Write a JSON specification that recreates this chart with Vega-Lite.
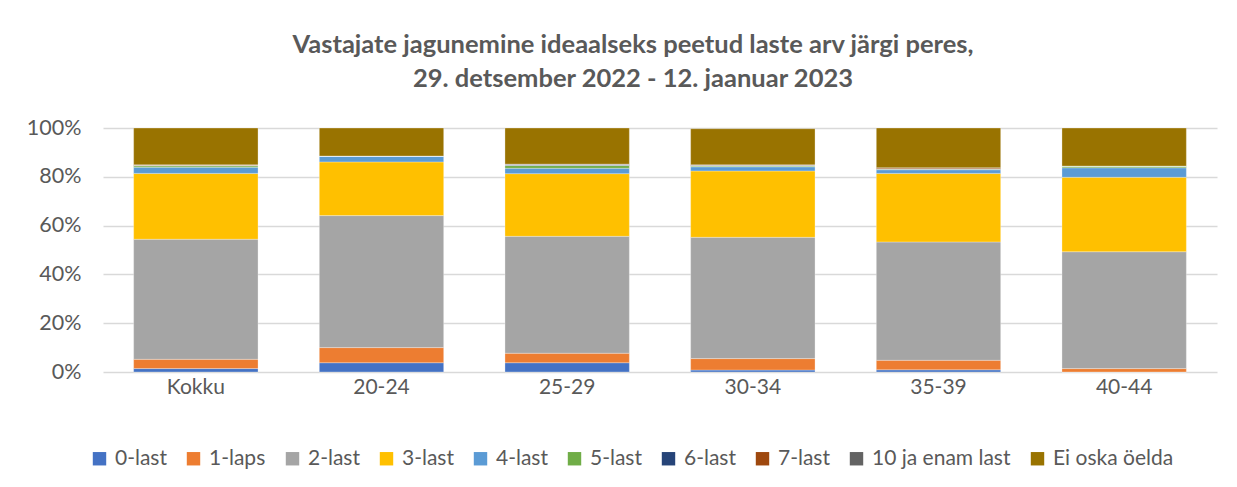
{
  "$schema": "https://vega.github.io/schema/vega-lite/v6.json",
  "autosize": {"type": "none"},
  "width": 1114,
  "height": 244,
  "padding": {"left": 103, "top": 128, "right": 20, "bottom": 115},
  "background": "#ffffff",
  "title": {
    "text": ["Vastajate jagunemine ideaalseks peetud laste arv järgi peres,", "29. detsember 2022 - 12. jaanuar 2023"],
    "fontSize": 25.5,
    "fontWeight": "bold",
    "font": "Lato",
    "color": "#595959",
    "anchor": "middle",
    "lineHeight": 34,
    "offset": 25,
    "dx": -27
  },
  "data": {
    "values": [
      {"g": "Kokku", "k": "0-last", "v": 1.4},
      {"g": "Kokku", "k": "1-laps", "v": 3.8},
      {"g": "Kokku", "k": "2-last", "v": 49.2},
      {"g": "Kokku", "k": "3-last", "v": 27.0},
      {"g": "Kokku", "k": "4-last", "v": 2.5},
      {"g": "Kokku", "k": "5-last", "v": 0.6},
      {"g": "Kokku", "k": "6-last", "v": 0.1},
      {"g": "Kokku", "k": "7-last", "v": 0.2},
      {"g": "Kokku", "k": "10 ja enam last", "v": 0.1},
      {"g": "Kokku", "k": "Ei oska öelda", "v": 15.1},
      {"g": "20-24", "k": "0-last", "v": 3.8},
      {"g": "20-24", "k": "1-laps", "v": 6.2},
      {"g": "20-24", "k": "2-last", "v": 54.1},
      {"g": "20-24", "k": "3-last", "v": 22.0},
      {"g": "20-24", "k": "4-last", "v": 2.4},
      {"g": "20-24", "k": "5-last", "v": 0.0},
      {"g": "20-24", "k": "6-last", "v": 0.0},
      {"g": "20-24", "k": "7-last", "v": 0.0},
      {"g": "20-24", "k": "10 ja enam last", "v": 0.0},
      {"g": "20-24", "k": "Ei oska öelda", "v": 11.5},
      {"g": "25-29", "k": "0-last", "v": 3.8},
      {"g": "25-29", "k": "1-laps", "v": 3.9},
      {"g": "25-29", "k": "2-last", "v": 47.9},
      {"g": "25-29", "k": "3-last", "v": 25.7},
      {"g": "25-29", "k": "4-last", "v": 2.2},
      {"g": "25-29", "k": "5-last", "v": 1.1},
      {"g": "25-29", "k": "6-last", "v": 0.2},
      {"g": "25-29", "k": "7-last", "v": 0.2},
      {"g": "25-29", "k": "10 ja enam last", "v": 0.2},
      {"g": "25-29", "k": "Ei oska öelda", "v": 14.8},
      {"g": "30-34", "k": "0-last", "v": 0.8},
      {"g": "30-34", "k": "1-laps", "v": 4.7},
      {"g": "30-34", "k": "2-last", "v": 49.7},
      {"g": "30-34", "k": "3-last", "v": 27.2},
      {"g": "30-34", "k": "4-last", "v": 1.7},
      {"g": "30-34", "k": "5-last", "v": 0.3},
      {"g": "30-34", "k": "6-last", "v": 0.3},
      {"g": "30-34", "k": "7-last", "v": 0.1},
      {"g": "30-34", "k": "10 ja enam last", "v": 0.1},
      {"g": "30-34", "k": "Ei oska öelda", "v": 14.8},
      {"g": "35-39", "k": "0-last", "v": 0.9},
      {"g": "35-39", "k": "1-laps", "v": 3.9},
      {"g": "35-39", "k": "2-last", "v": 48.5},
      {"g": "35-39", "k": "3-last", "v": 28.1},
      {"g": "35-39", "k": "4-last", "v": 1.5},
      {"g": "35-39", "k": "5-last", "v": 0.2},
      {"g": "35-39", "k": "6-last", "v": 0.1},
      {"g": "35-39", "k": "7-last", "v": 0.4},
      {"g": "35-39", "k": "10 ja enam last", "v": 0.1},
      {"g": "35-39", "k": "Ei oska öelda", "v": 16.3},
      {"g": "40-44", "k": "0-last", "v": 0.0},
      {"g": "40-44", "k": "1-laps", "v": 1.4},
      {"g": "40-44", "k": "2-last", "v": 47.9},
      {"g": "40-44", "k": "3-last", "v": 30.5},
      {"g": "40-44", "k": "4-last", "v": 3.9},
      {"g": "40-44", "k": "5-last", "v": 0.7},
      {"g": "40-44", "k": "6-last", "v": 0.0},
      {"g": "40-44", "k": "7-last", "v": 0.0},
      {"g": "40-44", "k": "10 ja enam last", "v": 0.0},
      {"g": "40-44", "k": "Ei oska öelda", "v": 15.6}
    ]
  },
  "transform": [
    {"calculate": "indexof(['0-last', '1-laps', '2-last', '3-last', '4-last', '5-last', '6-last', '7-last', '10 ja enam last', 'Ei oska öelda'], datum.k)", "as": "stackOrder"}
  ],
  "mark": {"type": "bar", "stroke": "#ffffff", "strokeWidth": 0.5, "strokeOpacity": 0.6},
  "encoding": {
    "x": {
      "field": "g",
      "type": "nominal",
      "sort": ["Kokku", "20-24", "25-29", "30-34", "35-39", "40-44"],
      "title": null,
      "scale": {"paddingInner": 0.33, "paddingOuter": 0.165},
      "axis": {"labelAngle": 0, "domain": false, "ticks": false, "labelPadding": 4, "labelFontSize": 21, "labelFont": "Lato", "labelColor": "#595959"}
    },
    "y": {
      "field": "v",
      "type": "quantitative",
      "stack": "zero",
      "title": null,
      "scale": {"domain": [0, 100], "nice": false},
      "axis": {
        "values": [0, 20, 40, 60, 80, 100],
        "labelExpr": "datum.value + '%'",
        "domain": false,
        "ticks": false,
        "labelPadding": 22,
        "labelFontSize": 21.5,
        "labelFont": "Lato",
        "labelColor": "#595959",
        "gridColor": "#d9d9d9",
        "gridWidth": 1.5
      }
    },
    "order": {"field": "stackOrder", "type": "quantitative", "sort": "ascending"},
    "color": {
      "field": "k",
      "type": "nominal",
      "sort": ["0-last", "1-laps", "2-last", "3-last", "4-last", "5-last", "6-last", "7-last", "10 ja enam last", "Ei oska öelda"],
      "scale": {
        "domain": ["0-last", "1-laps", "2-last", "3-last", "4-last", "5-last", "6-last", "7-last", "10 ja enam last", "Ei oska öelda"],
        "range": ["#4472C4", "#ED7D31", "#A5A5A5", "#FFC000", "#5B9BD5", "#70AD47", "#264478", "#9E480E", "#636363", "#997300"]
      },
      "legend": {
        "title": null,
        "orient": "none",
        "direction": "horizontal",
        "legendX": -14,
        "legendY": 320,
        "symbolType": "square",
        "symbolSize": 180,
        "symbolStrokeWidth": 0,
        "labelFontSize": 21,
        "labelFont": "Lato",
        "labelColor": "#595959",
        "labelOffset": 5,
        "columnPadding": 16
      }
    }
  },
  "config": {"view": {"stroke": null}}
}
